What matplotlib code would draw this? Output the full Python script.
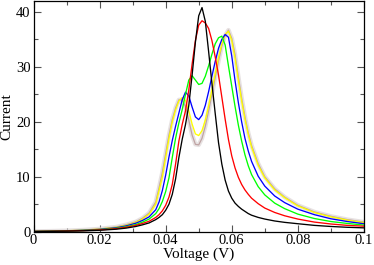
import numpy as np
import matplotlib
matplotlib.use("Agg")
import matplotlib.pyplot as plt
from matplotlib.ticker import MultipleLocator

# voltage grid shared by all curves
voltage = [0, .005, .01, .015, .02, .025, .028, .031, .033, .035, .037, .038, .039,
           .040, .041, .042, .043, .044, .045, .046, .047, .048, .049, .050, .051,
           .052, .053, .054, .055, .056, .057, .058, .059, .060, .061, .062, .063,
           .064, .065, .066, .068, .070, .073, .076, .080, .085, .090, .095, .100]

black = [0.03, 0.06, 0.1, 0.16, 0.26, 0.45, 0.65, 0.95, 1.25, 1.6, 2.2, 2.6, 3.1,
         3.9, 5.0, 6.8, 9.6, 13.5, 16.8, 19.5, 23.0, 28.5, 34.5, 39.3, 40.8,
         38.3, 32.8, 27.0, 21.5, 16.2, 12.3, 9.4, 7.4, 6.1, 5.2, 4.6, 4.1,
         3.7, 3.3, 3.0, 2.6, 2.3, 1.95, 1.7, 1.45, 1.15, 0.95, 0.8, 0.7]

red = [0.04, 0.07, 0.12, 0.2, 0.32, 0.55, 0.8, 1.15, 1.5, 1.9, 2.6, 3.1, 3.8,
       4.8, 6.3, 8.6, 12.3, 16.5, 19.5, 22.0, 25.8, 30.5, 34.8, 37.6, 38.4,
       38.0, 37.0, 34.8, 31.8, 28.5, 24.5, 20.5, 16.8, 13.8, 11.6, 9.9, 8.6,
       7.6, 6.8, 6.1, 5.1, 4.3, 3.5, 2.9, 2.3, 1.75, 1.4, 1.15, 1.0]

green = [0.04, 0.08, 0.13, 0.22, 0.36, 0.62, 0.9, 1.3, 1.75, 2.3, 3.3, 4.2, 5.5,
         7.3, 9.8, 13.5, 17.0, 19.8, 22.2, 25.0, 27.6, 28.4, 27.6, 26.8, 27.0,
         28.3, 30.2, 32.3, 34.2, 35.3, 35.6, 34.0, 30.2, 26.5, 22.8, 19.4, 16.5,
         14.0, 12.0, 10.4, 8.2, 6.7, 5.2, 4.2, 3.2, 2.4, 1.85, 1.5, 1.2]

blue = [0.05, 0.09, 0.15, 0.25, 0.42, 0.72, 1.05, 1.55, 2.05, 2.7, 4.0, 5.4, 7.5,
        10.3, 13.6, 16.6, 19.2, 21.6, 24.0, 25.4, 24.7, 22.7, 20.9, 20.4, 21.2,
        23.0, 25.5, 28.3, 31.0, 33.4, 35.0, 35.9, 35.4, 32.0, 27.5, 23.5, 20.0,
        17.0, 14.7, 12.8, 10.1, 8.3, 6.5, 5.3, 4.1, 3.1, 2.35, 1.85, 1.45]

yellow = [0.05, 0.1, 0.17, 0.28, 0.47, 0.8, 1.15, 1.7, 2.3, 3.2, 5.0, 7.5, 10.0,
          13.5, 17.0, 20.0, 22.2, 23.8, 24.4, 23.9, 22.0, 19.6, 17.8, 17.5, 18.4,
          20.3, 22.9, 25.8, 28.8, 31.7, 34.2, 35.9, 36.5, 34.8, 31.6, 27.6, 23.8,
          20.5, 17.7, 15.4, 12.1, 9.8, 7.6, 6.2, 4.7, 3.5, 2.7, 2.1, 1.65]

brown = [0.05, 0.1, 0.18, 0.3, 0.5, 0.85, 1.25, 1.8, 2.45, 3.4, 5.4, 8.0, 10.8,
         14.2, 17.6, 20.4, 22.5, 24.0, 24.0, 22.8, 20.3, 17.6, 15.9, 15.8, 17.0,
         19.2, 22.0, 25.0, 28.1, 31.1, 33.8, 35.7, 36.7, 35.2, 32.2, 28.2, 24.3,
         20.9, 18.0, 15.7, 12.4, 10.0, 7.8, 6.3, 4.8, 3.6, 2.8, 2.2, 1.75]

plt.rcParams['font.family'] = ['Liberation Serif', 'DejaVu Serif']

fig = plt.figure(figsize=(3.74, 2.65), dpi=100)
ax = fig.add_axes([0.0896, 0.1257, 0.8834, 0.8706])

# faint halo of the overlapping brownish curves
ax.plot(voltage, brown, color='#ddd6d6', lw=3.2, alpha=0.7)
ax.plot(voltage, brown, color='#bfa3a3', lw=0.9)
ax.plot(voltage, yellow, color='#ffff00', lw=0.95)
ax.plot(voltage, blue, color='#0000ff', lw=0.95)
ax.plot(voltage, green, color='#00ff00', lw=0.95)
ax.plot(voltage, red, color='#ff0000', lw=0.95)
ax.plot(voltage, black, color='#000000', lw=0.95)

ax.set_xlim(0, 0.1)
ax.set_ylim(0, 42)
ax.xaxis.set_minor_locator(MultipleLocator(0.01))
ax.yaxis.set_major_locator(MultipleLocator(10))
ax.yaxis.set_minor_locator(MultipleLocator(5))
ax.set_xticks([0, 0.02, 0.04, 0.06, 0.08, 0.1])
ax.set_xticklabels(['0', '0.02', '0.04', '0.06', '0.08', '0.1'])
ax.tick_params(which='both', direction='in', top=True, right=True,
               labelsize=10.5, color='#555555', width=0.8, pad=2)
ax.tick_params(which='major', length=5)
ax.tick_params(which='minor', length=3)
for s in ax.spines.values():
    s.set_linewidth(0.9)

ax.set_xlabel('Voltage (V)', fontsize=11, labelpad=0)
ax.set_ylabel('Current', fontsize=11, labelpad=2)

fig.savefig('out.png', dpi=100)
